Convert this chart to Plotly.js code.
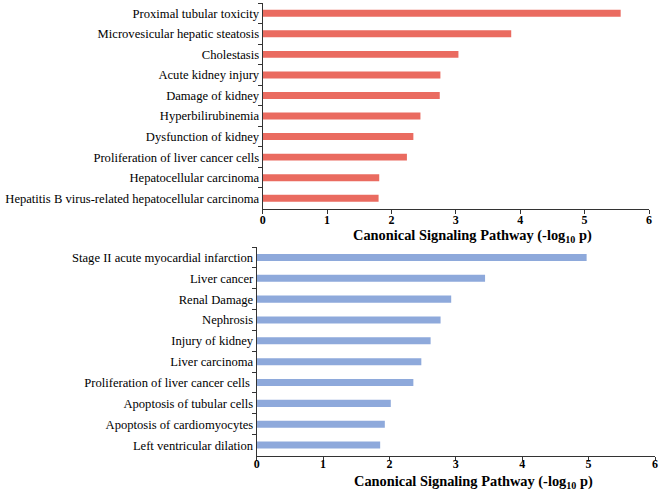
<!DOCTYPE html>
<html>
<head>
<meta charset="utf-8">
<script src="https://cdn.plot.ly/plotly-3.0.1.min.js"></script>
<style>html,body{margin:0;padding:0;background:#fff;}#chart{width:660px;height:490px;}</style>
</head>
<body>
<div id="chart"></div>
<script>
const topCategories = [
  "Proximal tubular toxicity",
  "Microvesicular hepatic steatosis",
  "Cholestasis",
  "Acute kidney injury",
  "Damage of kidney",
  "Hyperbilirubinemia",
  "Dysfunction of kidney",
  "Proliferation of liver cancer cells",
  "Hepatocellular carcinoma",
  "Hepatitis B virus-related hepatocellular carcinoma"
];
const topValues = [5.56, 3.86, 3.04, 2.76, 2.75, 2.45, 2.34, 2.24, 1.81, 1.80];

const bottomCategories = [
  "Stage II acute myocardial infarction",
  "Liver cancer",
  "Renal Damage",
  "Nephrosis",
  "Injury of kidney",
  "Liver carcinoma",
  "Proliferation of liver cancer cells ",
  "Apoptosis of tubular cells",
  "Apoptosis of cardiomyocytes",
  "Left ventricular dilation"
];
const bottomValues = [4.97, 3.44, 2.93, 2.77, 2.62, 2.48, 2.36, 2.02, 1.93, 1.86];

const xTickValues = [0, 1, 2, 3, 4, 5, 6];
const xTitle = "<b>Canonical Signaling Pathway (-log<sub>10</sub> p)</b>";

const serif = "Liberation Serif";

const traces = [
  {type: "bar", orientation: "h", x: topValues, y: topCategories,
   xaxis: "x", yaxis: "y", marker: {color: "#EA6B60"}, hoverinfo: "x+y"},
  {type: "bar", orientation: "h", x: bottomValues, y: bottomCategories,
   xaxis: "x2", yaxis: "y2", marker: {color: "#8EA9DB"}, hoverinfo: "x+y"}
];

function xAxis(domain, anchor, standoff) {
  return {
    domain: domain, anchor: anchor, range: [0, 6], tickvals: xTickValues,
    ticktext: xTickValues.map(v => "<b>" + v + "</b>"),
    ticks: "outside", ticklen: 4, tickcolor: "#333", showline: true,
    linecolor: "#333", linewidth: 1, showgrid: false, zeroline: false,
    ticklabelstandoff: standoff,
    tickfont: {family: serif, size: 12, color: "#000"}
  };
}
function yAxis(domain, anchor, cats) {
  return {
    domain: domain, anchor: anchor, type: "category",
    categoryorder: "array", categoryarray: cats, autorange: "reversed",
    ticks: "outside", ticklen: 4, tickcolor: "#333", tickson: "boundaries",
    showline: true, linecolor: "#333", linewidth: 1, showgrid: false,
    zeroline: false,
    tickfont: {family: serif, size: 12.6, color: "#000"}
  };
}

const layout = {
  width: 660, height: 490,
  margin: {l: 0, r: 0, t: 0, b: 0},
  font: {family: serif},
  paper_bgcolor: "#fff", plot_bgcolor: "#fff",
  showlegend: false, bargap: 0.66,
  xaxis: xAxis([262.7/660, 649/660], "y", -4),
  yaxis: yAxis([1 - 208.5/490, 1 - 3/490], "x", topCategories),
  xaxis2: xAxis([256.7/660, 655/660], "y2", -7),
  yaxis2: yAxis([1 - 455.5/490, 1 - 247/490], "x2", bottomCategories),
  annotations: [
    {text: xTitle, xref: "paper", yref: "paper", x: 472/660, y: 1 - 236/490,
     showarrow: false, xanchor: "center", yanchor: "middle",
     font: {family: serif, size: 14.4, color: "#000"}},
    {text: xTitle, xref: "paper", yref: "paper", x: 473/660, y: 1 - 481.5/490,
     showarrow: false, xanchor: "center", yanchor: "middle",
     font: {family: serif, size: 14.4, color: "#000"}}
  ]
};

Plotly.newPlot("chart", traces, layout, {displayModeBar: false, staticPlot: true});
</script>
</body>
</html>
